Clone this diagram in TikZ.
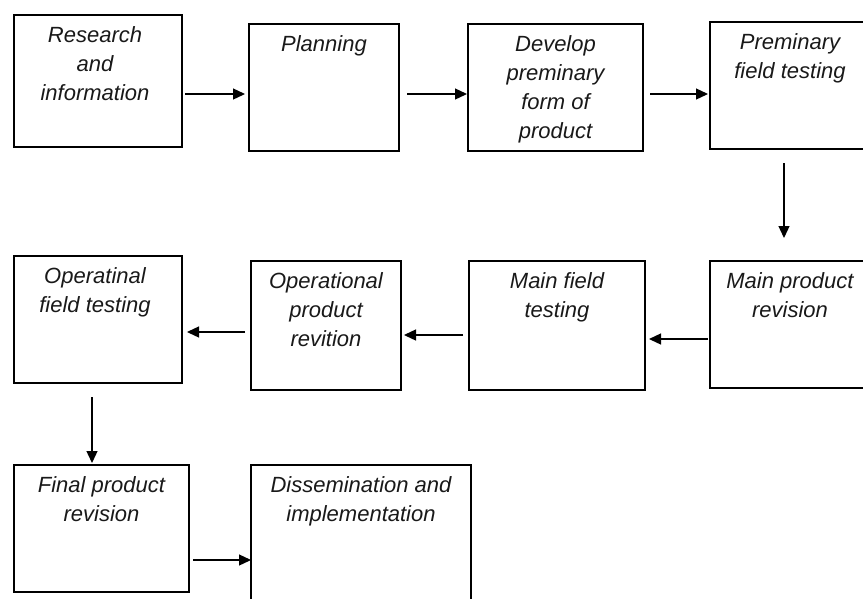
\documentclass[tikz,border=0pt]{standalone}
\usepackage{fontspec}
\setmainfont{Liberation Sans}
\usetikzlibrary{arrows.meta}
\begin{document}
\begin{tikzpicture}[x=1pt,y=-1pt,
  stagebox/.style={draw, line width=1.4pt, inner sep=0pt, outer sep=0pt},
  stagetext/.style={anchor=north, inner sep=0pt, align=center,
    font={\fontsize{22}{29}\selectfont\itshape}, text=black!90},
  flow/.style={line width=1.3pt, -{Triangle[length=12pt,width=11pt]}}]
\useasboundingbox (0,0) rectangle (863,598);
\clip (0,0) rectangle (863,598);

% first row
\node[stagebox, minimum width=168pt, minimum height=132pt] (b1) at (98,81) {};
\node[stagebox, minimum width=150pt, minimum height=127pt] (b2) at (324,87.5) {};
\node[stagebox, minimum width=175pt, minimum height=127pt] (b3) at (555.5,87.5) {};
\node[stagebox, minimum width=160pt, minimum height=127pt] (b4) at (790,85.5) {};

% second row
\node[stagebox, minimum width=160pt, minimum height=127pt] (b5) at (790,324.5) {};
\node[stagebox, minimum width=176pt, minimum height=129pt] (b6) at (557,325.5) {};
\node[stagebox, minimum width=150pt, minimum height=129pt] (b7) at (326,325.5) {};
\node[stagebox, minimum width=168pt, minimum height=127pt] (b8) at (98,319.5) {};

% third row
\node[stagebox, minimum width=175pt, minimum height=127pt] (b9) at (101.5,528.5) {};
\node[stagebox, minimum width=220pt, minimum height=150pt] (b10) at (361,540) {};

% labels
\node[stagetext] (t1) at ([xshift=-3pt,yshift=-11pt]b1.north) {Research\\and\\information};
\node[stagetext] (t2) at ([yshift=-11pt]b2.north) {Planning};
\node[stagetext] (t3) at ([yshift=-11pt]b3.north) {Develop\\preminary\\form of\\product};
\node[stagetext] (t4) at ([yshift=-11pt]b4.north) {Preminary\\field testing};
\node[stagetext] (t5) at ([yshift=-11pt]b5.north) {Main product\\revision};
\node[stagetext] (t6) at ([yshift=-11pt]b6.north) {Main field\\testing};
\node[stagetext] (t7) at ([yshift=-11pt]b7.north) {Operational\\product\\revition};
\node[stagetext] (t8) at ([xshift=-3pt,yshift=-11pt]b8.north) {Operatinal\\field testing};
\node[stagetext] (t9) at ([yshift=-11pt]b9.north) {Final product\\revision};
\node[stagetext] (t10) at ([yshift=-11pt]b10.north) {Dissemination and\\implementation};

% connectors
\draw[flow] ([xshift=3pt,yshift=-13pt]b1.east) coordinate (s1) -- ([xshift=-4pt]s1 -| b2.west);
\draw[flow] ([xshift=8pt,yshift=-6.5pt]b2.east) coordinate (s2) -- ([xshift=-1pt]s2 -| b3.west);
\draw[flow] ([xshift=7pt,yshift=-6.5pt]b3.east) coordinate (s3) -- ([xshift=-2pt]s3 -| b4.west);
\draw[flow] ([xshift=-6pt,yshift=-14pt]b4.south) coordinate (s4) -- ([yshift=23pt]s4 |- b5.north);
\draw[flow] ([xshift=-2pt,yshift=-14.5pt]b5.west) coordinate (s5) -- ([xshift=4pt]s5 -| b6.east);
\draw[flow] ([xshift=-6pt,yshift=-9.5pt]b6.west) coordinate (s6) -- ([xshift=3pt]s6 -| b7.east);
\draw[flow] ([xshift=-6pt,yshift=-6.5pt]b7.west) coordinate (s7) -- ([xshift=5pt]s7 -| b8.east);
\draw[flow] ([xshift=-6pt,yshift=-14pt]b8.south) coordinate (s8) -- ([yshift=2pt]s8 |- b9.north);
\draw[flow] ([xshift=4pt,yshift=-31.5pt]b9.east) coordinate (s9) -- (s9 -| b10.west);
\end{tikzpicture}
\end{document}
